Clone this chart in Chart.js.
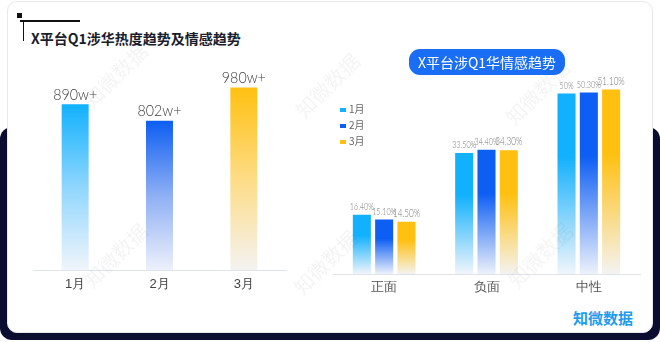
<!DOCTYPE html>
<html>
<head>
<meta charset="utf-8">
<script src="https://cdn.jsdelivr.net/npm/chart.js@4/dist/chart.umd.min.js"></script>
<style>
  html, body { margin: 0; padding: 0; background: #fff; }
  body { width: 660px; height: 342px; position: relative; overflow: hidden; font-family: "Noto Sans CJK SC", "Noto Sans", sans-serif; }
  .frame { position: absolute; left: 0; top: 127px; width: 660px; height: 213px; background: #0b0d30; border-radius: 12px; }
  .card { position: absolute; left: 7px; top: 1px; width: 644px; height: 330px; background: #fff; border: 1px solid #e6e8ee; border-radius: 10px; }
  .mark-dot { position: absolute; left: 17px; top: 13px; width: 5px; height: 5px; background: #111; }
  .mark-h { position: absolute; left: 20px; top: 20px; width: 60px; height: 1.5px; background: #111; }
  .mark-v { position: absolute; left: 22.5px; top: 20px; width: 1.5px; height: 21px; background: #111; }
  .title { position: absolute; left: 31px; top: 28px; font-size: 14px; font-weight: 700; color: #1b1d2b; white-space: nowrap; }
  .pill { position: absolute; left: 409px; top: 49px; width: 156px; height: 26px; background: #1a6ef5; border-radius: 11px; color: #fff; font-size: 14px; line-height: 26px; text-align: center; white-space: nowrap; }
  .box { position: absolute; }
  #legend { position: absolute; left: 340px; top: 101px; font-size: 10px; color: #666; }
  #legend div { height: 16px; line-height: 16px; white-space: nowrap; }
  #legend span { display: inline-block; width: 6px; height: 4px; margin-right: 3px; vertical-align: middle; }
  .wm { position: absolute; font-size: 20px; color: rgba(60, 60, 70, 0.06); transform: translate(-50%, -50%) rotate(-45deg); white-space: nowrap; pointer-events: none; z-index: 5; }
  .logo { position: absolute; left: 573px; top: 307px; font-size: 15px; font-weight: 700; color: #1d9cf0; }
</style>
</head>
<body>
<div class="frame"></div>
<div class="card"></div>
<div class="mark-dot"></div>
<div class="mark-h"></div>
<div class="mark-v"></div>
<div class="title">X平台Q1涉华热度趋势及情感趋势</div>

<div class="box" style="left:20px; top:60px; width:280px; height:240px;"><canvas id="heatChart"></canvas></div>
<div class="box" style="left:330px; top:70px; width:320px; height:230px;"><canvas id="moodChart"></canvas></div>

<div class="pill">X平台涉Q1华情感趋势</div>
<div id="legend"></div>
<div class="logo">知微数据</div>

<div class="wm" style="left:115px; top:75px;">知微数据</div>
<div class="wm" style="left:115px; top:255px;">知微数据</div>
<div class="wm" style="left:327px; top:85px;">知微数据</div>
<div class="wm" style="left:325px; top:262px;">知微数据</div>
<div class="wm" style="left:537px; top:92px;">知微数据</div>
<div class="wm" style="left:540px; top:255px;">知微数据</div>

<script>
// monthly heat (unit: w)
const months = ['1月', '2月', '3月'];
const heatValues = [890, 802, 980];
const heatLabels = ['890w+', '802w+', '980w+'];

// sentiment share per month (%)
const moods = ['正面', '负面', '中性'];
const janShare = [16.4, 33.5, 50];
const febShare = [15.1, 34.4, 50.3];
const marShare = [14.5, 34.3, 51.1];

const monthColors = ['#12b1fd', '#0d5ef3', '#ffc010'];
const heatMid = ['#8fd6fe', '#8eaff4', '#fddc85'];
const fadeColors = ['#f1f5fb', '#edf1fb', '#f4f3f2'];

const fmtPct = v => (Number.isInteger(v) ? v : v.toFixed(2)) + '%';

// vertical gradient from bar top to baseline
function barGradient(stops) {
  return (ctx) => {
    const chart = ctx.chart;
    const area = chart.chartArea;
    if (!area || ctx.raw === undefined) return stops[0][1];
    const top = chart.scales.y.getPixelForValue(ctx.raw);
    const g = chart.ctx.createLinearGradient(0, top, 0, area.bottom);
    stops.forEach(([p, c]) => g.addColorStop(p, c));
    return g;
  };
}

// draws the value text above each bar (squeezed horizontally by `squeeze`)
const valueLabels = {
  id: 'valueLabels',
  afterDatasetsDraw(chart, args, opts) {
    const ctx = chart.ctx;
    chart.data.datasets.forEach((ds, di) => {
      const meta = chart.getDatasetMeta(di);
      meta.data.forEach((bar, i) => {
        ctx.save();
        ctx.font = opts.weight + ' ' + opts.sizes[di] + 'px Lato, "Noto Sans", sans-serif';
        ctx.fillStyle = opts.color;
        ctx.textAlign = 'center';
        ctx.textBaseline = 'bottom';
        ctx.translate(bar.x, bar.y - opts.gap);
        ctx.scale(opts.squeeze[di], 1);
        ctx.fillText(opts.text(ds, di, i), 0, 0);
        ctx.restore();
      });
    });
  }
};

new Chart(document.getElementById('heatChart'), {
  type: 'bar',
  data: {
    labels: months,
    datasets: [{
      data: heatValues,
      backgroundColor: (ctx) => {
        const i = ctx.dataIndex;
        return barGradient([[0, monthColors[i]], [0.5, heatMid[i]], [1, fadeColors[i]]])(ctx);
      },
      categoryPercentage: 1,
      barPercentage: 0.32
    }]
  },
  options: {
    responsive: true,
    maintainAspectRatio: false,
    animation: false,
    layout: { padding: { left: 13, right: 14, top: 0, bottom: 0 } },
    plugins: {
      legend: { display: false },
      tooltip: { enabled: false },
      valueLabels: {
        sizes: [15],
        squeeze: [0.95],
        weight: 300,
        color: '#3c3c3c',
        gap: 2,
        text: (ds, di, i) => heatLabels[i]
      }
    },
    scales: {
      x: {
        grid: { display: false, drawTicks: false },
        border: { display: true, color: '#dfe3ec', width: 1 },
        ticks: { color: '#444', font: { size: 13 }, padding: 7 },
        afterFit: (s) => { s.height = 30; }
      },
      y: { display: false, min: 0, max: 1128 }
    }
  },
  plugins: [valueLabels]
});

const moodSets = [janShare, febShare, marShare].map((vals, k) => ({
  label: months[k],
  data: vals,
  backgroundColor: barGradient([[0, monthColors[k]], [0.35, monthColors[k]], [1, fadeColors[k]]]),
  categoryPercentage: 0.654,
  barPercentage: 0.81
}));

new Chart(document.getElementById('moodChart'), {
  type: 'bar',
  data: { labels: moods, datasets: moodSets },
  options: {
    responsive: true,
    maintainAspectRatio: false,
    animation: false,
    layout: { padding: { left: 3, right: 10, top: 0, bottom: 0 } },
    plugins: {
      legend: { display: false },
      tooltip: { enabled: false },
      valueLabels: {
        sizes: [9, 9, 11],
        squeeze: [0.8, 0.8, 0.74],
        weight: 300,
        color: '#777',
        gap: 3,
        text: (ds, di, i) => fmtPct(ds.data[i])
      }
    },
    scales: {
      x: {
        grid: { display: false, drawTicks: false },
        border: { display: true, color: '#dfe3ec', width: 1 },
        ticks: { color: '#555', font: { size: 12.5 }, padding: 6 },
        afterFit: (s) => { s.height = 26; }
      },
      y: { display: false, min: 0, max: 56.5 }
    }
  },
  plugins: [valueLabels]
});

// legend built from the dataset names and colours
const legend = document.getElementById('legend');
months.forEach((m, k) => {
  const row = document.createElement('div');
  row.innerHTML = '<span style="background:' + monthColors[k] + '"></span>' + m;
  legend.appendChild(row);
});
</script>
</body>
</html>
